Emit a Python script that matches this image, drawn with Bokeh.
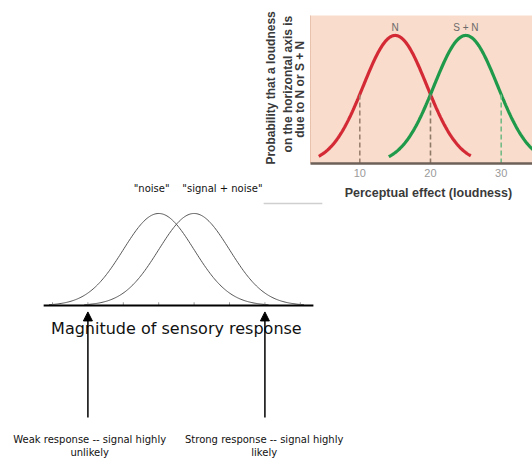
import numpy as np
from bokeh.plotting import figure
from bokeh.models import Range1d, Arrow, NormalHead, ColumnDataSource
from bokeh.core.properties import value
from bokeh.embed import file_html
from bokeh.resources import INLINE

# ---------------- data: inset textbook chart ----------------
inset_tick_values = [10, 20, 30]
inset_tick_labels = ["10", "20", "30"]
inset_curve_names = ["N", "S + N"]
inset_means = [15, 25]
inset_sds = [4.5, 4.5]
inset_x_from = [4.2, 14.1]
inset_x_to = [25.7, 36.0]
inset_colors = ["#d42a36", "#1f9a4b"]
criterion_values = [10, 20, 30]
criterion_colors = ["#9b8270", "#8e7868", "#74bb86"]
inset_xlabel = "Perceptual effect (loudness)"
inset_ylabel_lines = ["Probability that a loudness", "on the horizontal axis is", "due to N or S + N"]

# ---------------- data: hand-drawn diagram ----------------
diag_names = ['"noise"', '"signal + noise"']
diag_means = [3, 4]
diag_sds = [1, 1]
diag_ticks = [0, 1, 2, 3, 4, 5, 6, 7]
diag_xlabel = "Magnitude of sensory response"
arrow_x = [1, 6]
arrow_label_line1 = ["Weak response -- signal highly", "Strong response -- signal highly"]
arrow_label_line2 = ["unlikely", "likely"]

W, H = 532, 459
p = figure(width=W, height=H, output_backend="svg", toolbar_location=None,
           title=None, x_axis_location=None, y_axis_location=None,
           x_range=Range1d(-1.469, 13.559), y_range=Range1d(-1.674, 3.315),
           min_border=0, outline_line_color=None,
           background_fill_color="white", border_fill_color="white")
p.grid.visible = False
p.extra_x_ranges = {"ix": Range1d(-40.82, 34.43)}
p.extra_y_ranges = {"iy": Range1d(-2.3125, 1.273)}
IX = dict(x_range_name="ix", y_range_name="iy")

# ---------- inset ----------
p.quad(left=[3.03], right=[40], bottom=[0], top=[1.156], fill_color="#f9dccb",
       line_color=None, **IX)
p.segment(x0=[3.03], y0=[0], x1=[3.03], y1=[1.156], line_color="#e9c2ad", line_width=1, **IX)

def g(x, m, s):
    return np.exp(-0.5 * ((x - m) / s) ** 2)

for m, s, a, b, c in zip(inset_means, inset_sds, inset_x_from, inset_x_to, inset_colors):
    xs = np.linspace(a, b, 200)
    p.line(xs, g(xs, m, s), line_color=c, line_width=3.2, **IX)

cx = np.array(criterion_values, dtype=float)
tops = np.maximum(g(cx, inset_means[0], inset_sds[0]), g(cx, inset_means[1], inset_sds[1]))
p.segment(x0=cx, y0=np.zeros_like(cx), x1=cx, y1=tops, line_color=criterion_colors,
          line_width=1.6, line_dash="5 3", **IX)

p.segment(x0=[3.03], y0=[0], x1=[40], y1=[0], line_color="#6c6058", line_width=2.5, **IX)

p.text(x=inset_tick_values, y=[-0.078] * 3, text=inset_tick_labels, text_align="center",
       text_baseline="middle", text_color="#9a9a9a", text_font=value("Liberation Sans"),
       text_font_size="11px", **IX)
p.text(x=inset_means, y=[1.06, 1.06], text=inset_curve_names, text_align="center",
       text_baseline="middle", text_color="#6a6a6a", text_font=value("Liberation Sans"),
       text_font_size="10px", **IX)
p.text(x=[19.7], y=[-0.234], text=[inset_xlabel], text_align="center",
       text_baseline="middle", text_color="#3a3a3a", text_font=value("Liberation Sans"),
       text_font_size="12.5px", text_font_style="bold", **IX)
p.text(x=[-2.6, -0.2, 1.5], y=[0.59, 0.62, 0.58], text=inset_ylabel_lines, angle=np.pi / 2,
       text_align="center", text_baseline="middle", text_color="#3a3a3a",
       text_font=value("Liberation Sans"), text_font_size="12px", text_font_style="bold", **IX)
p.segment(x0=[-3.6], y0=[-0.3125], x1=[4.7], y1=[-0.3125], line_color="#cfcfcf",
          line_width=1.5, **IX)

# ---------- hand-drawn diagram ----------
for m, s in zip(diag_means, diag_sds):
    xs = np.linspace(m - 3.1 * s, m + 3.1 * s, 200)
    p.line(xs, g(xs, m, s), line_color="#555555", line_width=1)

p.segment(x0=diag_ticks, y0=[0] * len(diag_ticks), x1=diag_ticks, y1=[0.035] * len(diag_ticks),
          line_color="#999999", line_width=1)
p.segment(x0=[-0.25], y0=[0], x1=[7.37], y1=[0], line_color="black", line_width=2)

p.text(x=[2.8, 4.8], y=[1.27, 1.27], text=diag_names, text_align="center",
       text_baseline="middle", text_color="#111111", text_font=value("DejaVu Sans"),
       text_font_size="10px")
p.text(x=[3.5], y=[-0.25], text=[diag_xlabel], text_align="center", text_baseline="middle",
       text_color="#111111", text_font=value("DejaVu Sans"), text_font_size="16px")

asrc = ColumnDataSource(dict(x0=arrow_x, y0=[-1.217] * 2, x1=arrow_x, y1=[-0.07] * 2))
p.add_layout(Arrow(end=NormalHead(size=9, fill_color="black", line_color="black"),
                   x_start="x0", y_start="y0", x_end="x1", y_end="y1",
                   line_width=1.5, line_color="black", source=asrc))

p.text(x=[1.05, 5.98], y=[-1.46, -1.46], text=arrow_label_line1, text_align="center",
       text_baseline="middle", text_color="#111111", text_font=value("DejaVu Sans"),
       text_font_size="10px")
p.text(x=[1.05, 5.98], y=[-1.6, -1.6], text=arrow_label_line2, text_align="center",
       text_baseline="middle", text_color="#111111", text_font=value("DejaVu Sans"),
       text_font_size="10px")

open("out.html", "w").write(file_html(p, INLINE))
